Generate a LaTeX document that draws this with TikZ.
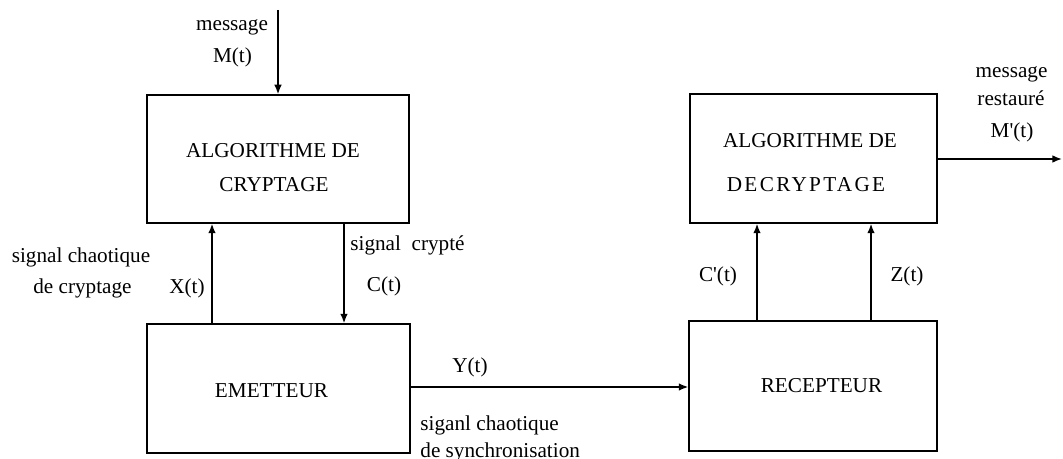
\documentclass[tikz,border=0pt]{standalone}
\usepackage{fontspec}
\setmainfont{Liberation Serif}
\usetikzlibrary{arrows.meta}
\begin{document}
\begin{tikzpicture}[x=0.5pt,y=-0.5pt,
  box/.style={draw, line width=0.65pt, inner sep=0pt},
  arr/.style={line width=0.8pt, -{Latex[length=4.8pt,width=3.8pt]}},
  lab/.style={inner sep=0pt, anchor=base, font=\fontsize{10.6}{13}\selectfont},
  labw/.style={lab, anchor=base west}]
\useasboundingbox (0,0) rectangle (1063,459);
% boxes
\node[box, minimum width=131pt, minimum height=64pt] (b1) at (278,159) {};
\node[box, minimum width=131.5pt, minimum height=64.5pt] (b2) at (278.5,388.5) {};
\node[box, minimum width=123.5pt, minimum height=64.5pt] (b3) at (813.5,158.5) {};
\node[box, minimum width=124pt, minimum height=65pt] (b4) at (813,386) {};
% box texts
\node[lab] (t1a) at (273,158) {ALGORITHME DE};
\node[lab] (t1b) at (274,192) {CRYPTAGE};
\node[lab] (t2) at (271.5,397) {EMETTEUR};
\node[lab] (t3a) at (810,148) {ALGORITHME DE};
\node[lab] (t3b) at (806,192) {\addfontfeature{LetterSpace=11}DECRYPTAGE};
\node[lab] (t4) at (821.5,392) {RECEPTEUR};
% helper coordinates
\coordinate (min) at (278,10);
\coordinate (xX) at (212,0);
\coordinate (xC) at (344,0);
\coordinate (yY) at (0,387);
\coordinate (xCp) at (757,0);
\coordinate (xZ) at (871,0);
\coordinate (mout) at (1062,159);
% connectors
\draw[arr] (min) -- (b1.north);
\draw[arr] (b2.north -| xX) -- (b1.south -| xX);
\draw[arr] (b1.south -| xC) -- (b2.north -| xC);
\draw[arr] (b2.east |- yY) -- (b4.west |- yY);
\draw[arr] (b4.north -| xCp) -- (b3.south -| xCp);
\draw[arr] (b4.north -| xZ) -- (b3.south -| xZ);
\draw[arr] (b3.east |- mout) -- (mout);
% labels
\node[lab] (l1) at (232,31) {message};
\node[lab] (l2) at (232.5,63) {M(t)};
\node[lab] (l3) at (81,263) {signal chaotique};
\node[lab] (l4) at (82.5,293) {de cryptage};
\node[lab] (l5) at (187,293) {X(t)};
\node[labw] (l6) at (350,250) {signal\ \ crypté};
\node[lab] (l7) at (384,292) {C(t)};
\node[lab] (l8) at (470,372) {Y(t)};
\node[labw] (l9) at (420,430) {siganl chaotique};
\node[labw] (l10) at (420,457) {de synchronisation};
\node[lab] (l11) at (718,281) {C\textquotesingle(t)};
\node[lab] (l12) at (907,281) {Z(t)};
\node[lab] (l13) at (1011.5,78) {message};
\node[lab] (l14) at (1011,106) {restauré};
\node[lab] (l15) at (1012,138) {M\textquotesingle(t)};
\end{tikzpicture}
\end{document}
